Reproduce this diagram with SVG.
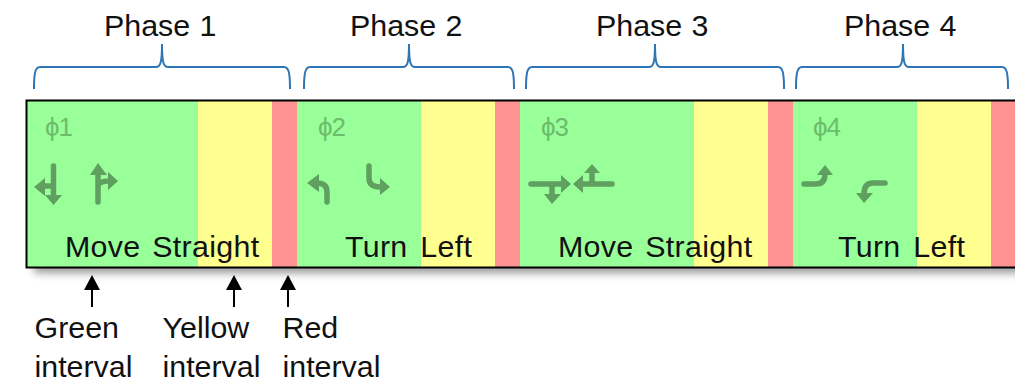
<svg xmlns="http://www.w3.org/2000/svg" width="1015" height="381" viewBox="0 0 1015 381">
<style>
text{font-family:"Liberation Sans",Arial,sans-serif;font-size:30.400px;fill:#111}
.g{fill:#99ff99}.y{fill:#ffff8f}.r{fill:#ff9393}
text.ph{font-size:26px;letter-spacing:-1px;fill:#6cbc6c}
.ms{letter-spacing:.3px}
.brace{fill:none;stroke:#2e75b6;stroke-width:2}
.st{fill:none;stroke:#5f9f5f;stroke-width:5.500;stroke-linecap:round;stroke-linejoin:round}
.hd{fill:#5f9f5f}
.ar{stroke:#000;stroke-width:2;fill:none}
.ah{fill:#000}
</style>
<defs>
<filter id="sh" x="-5%" y="-10%" width="110%" height="130%"><feGaussianBlur stdDeviation="4"/></filter>
</defs>
<rect x="34" y="108" width="1000" height="165" fill="#000" opacity="0.4" filter="url(#sh)"/>
<g id="bar">
<rect class="g" x="26" y="100" width="172" height="168"/>
<rect class="y" x="198" y="100" width="74" height="168"/>
<rect class="r" x="272" y="100" width="25" height="168"/>
<rect class="g" x="297" y="100" width="124" height="168"/>
<rect class="y" x="421" y="100" width="74" height="168"/>
<rect class="r" x="495" y="100" width="25" height="168"/>
<rect class="g" x="520" y="100" width="174" height="168"/>
<rect class="y" x="694" y="100" width="74" height="168"/>
<rect class="r" x="768" y="100" width="25" height="168"/>
<rect class="g" x="793" y="100" width="124" height="168"/>
<rect class="y" x="917" y="100" width="74" height="168"/>
<rect class="r" x="991" y="100" width="24" height="168"/>
<path d="M1016 100.500H26.500V267.500H1016" fill="none" stroke="#000" stroke-width="2"/>
</g>
<g id="phase-1">
<path class="brace" d="M34 89C34 74 35 67 40 67H156C160 67 162 64 162 44C162 64 164 67 168 67H284C289 67 290 74 290 89"/>
<text x="104" y="36" word-spacing="1">Phase 1</text>
<text class="ph" x="45" y="136">ϕ1</text>
<path class="st" d="M53.500 166V197M53.500 186H42"/>
<path class="hd" d="M34 187L45 178V196ZM45 195H62L53.500 205Z"/>
<path class="st" d="M98 202V172M98 186Q99 181 109 181"/>
<path class="hd" d="M98 163L107 175H90ZM118 181L108 172V190Z"/>
<text class="ms" x="65" y="257" word-spacing="3">Move Straight</text>
</g>
<g id="phase-2">
<path class="brace" d="M304 89C304 74 305 67 310 67H403C407 67 409 64 409 44C409 64 411 67 415 67H508C513 67 514 74 514 89"/>
<text x="350" y="36" word-spacing="1">Phase 2</text>
<text class="ph" x="318" y="136">ϕ2</text>
<path class="st" d="M327 202V192Q327 183 317 183"/>
<path class="hd" d="M307 183L319 174V192Z"/>
<path class="st" d="M369 166V178Q369 187 380 187"/>
<path class="hd" d="M390 187L380 178V195Z"/>
<text class="ms" x="345" y="257" word-spacing="4">Turn Left</text>
</g>
<g id="phase-3">
<path class="brace" d="M526 89C526 74 527 67 532 67H649C653 67 655 64 655 44C655 64 657 67 661 67H778C783 67 784 74 784 89"/>
<text x="596" y="36" word-spacing="1">Phase 3</text>
<text class="ph" x="541" y="136">ϕ3</text>
<path class="st" d="M531 184H564M552 184V196M612 184H581M592 184V172"/>
<path class="hd" d="M571 184L561 175V193ZM552 204L544 194H561ZM573 184L583 175V193ZM592 164L584 173H600Z"/>
<text class="ms" x="558" y="257" word-spacing="3">Move Straight</text>
</g>
<g id="phase-4">
<path class="brace" d="M796 89C796 74 797 67 802 67H897C901 67 903 64 903 44C903 64 905 67 909 67H1002C1007 67 1008 74 1008 89"/>
<text x="844" y="36" word-spacing="1">Phase 4</text>
<text class="ph" x="813" y="136">ϕ4</text>
<path class="st" d="M804 184H816Q825 184 825 174"/>
<path class="hd" d="M825 165L833 175H817Z"/>
<path class="st" d="M885 183H873Q864 183 864 194"/>
<path class="hd" d="M864 203L856 193H873Z"/>
<text class="ms" x="838" y="257" word-spacing="4">Turn Left</text>
</g>
<g id="connectors">
<path class="ar" d="M92 307V288M234 307V288M288 307V288"/>
<path class="ah" d="M92 275L100 290H84ZM234 275L242 290H226ZM288 275L296 290H280Z"/>
</g>
<g id="label-green"><text x="34.500" y="338">Green</text><text x="34.500" y="377">interval</text></g>
<g id="label-yellow"><text x="162.500" y="338">Yellow</text><text x="162.500" y="377">interval</text></g>
<g id="label-red"><text x="282.500" y="338">Red</text><text x="282.500" y="377">interval</text></g>
</svg>
